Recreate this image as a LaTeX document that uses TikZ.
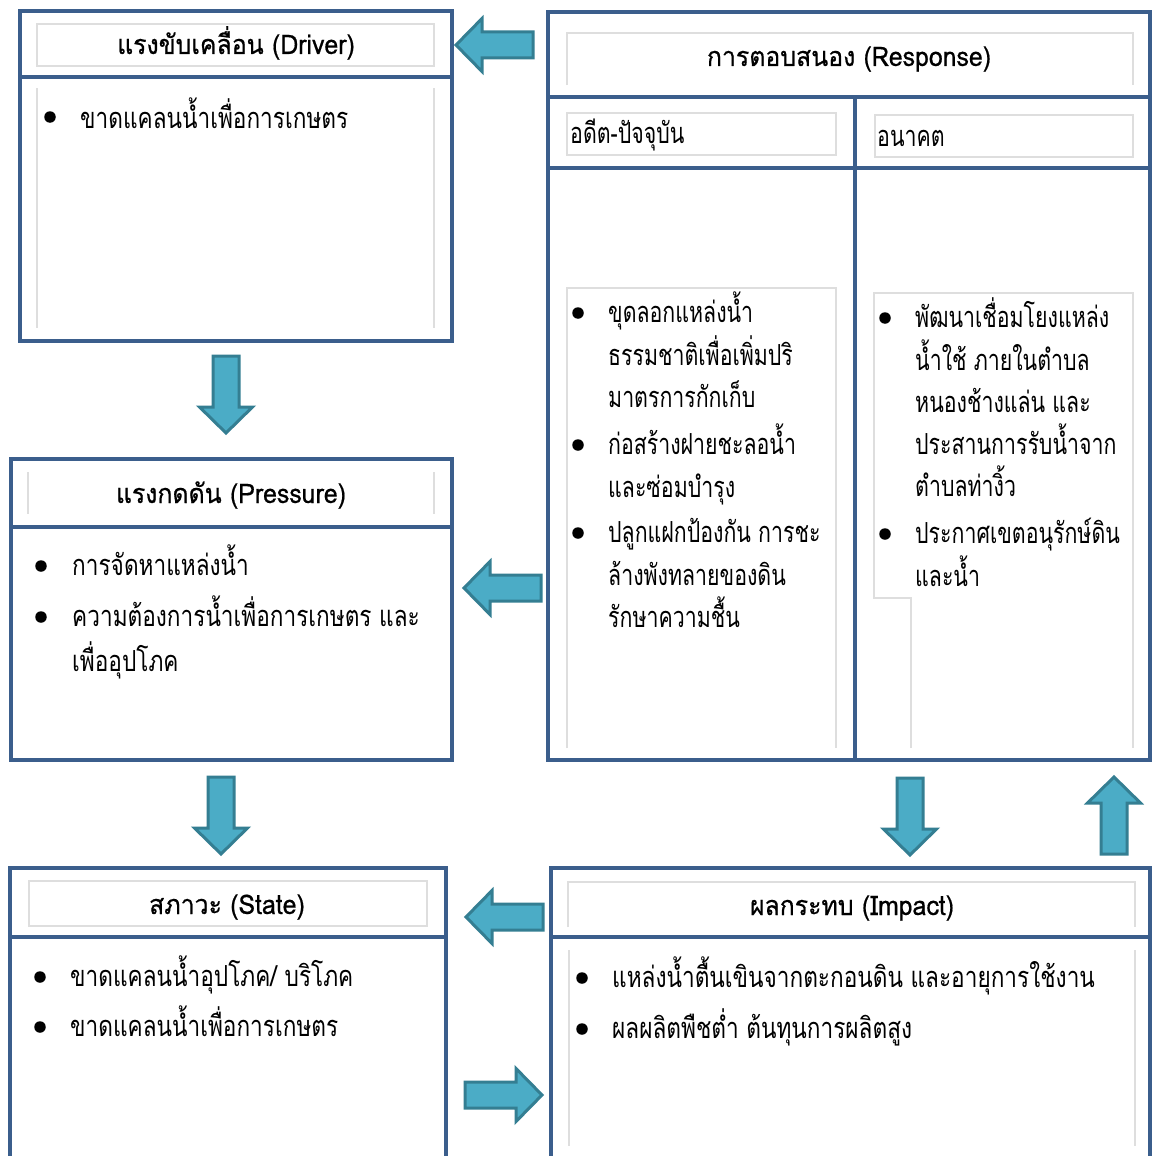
\documentclass[tikz,border=0pt]{standalone}
\usepackage{fontspec}
\newfontfamily\titlefont[Script=Thai,FakeStretch=0.92,FakeBold=0.6]{Loma}
\newfontfamily\bodyfont[Script=Thai,FakeStretch=0.78]{Loma}
\newfontfamily\colfont[Script=Thai,FakeStretch=0.735]{Loma}
\definecolor{frameblue}{RGB}{59,94,140}
\definecolor{guidegray}{RGB}{222,222,222}
\definecolor{arrowfill}{RGB}{75,172,198}
\definecolor{arrowedge}{RGB}{52,126,146}
\begin{document}
\begin{tikzpicture}[x=1pt,y=-1pt,
  frame/.style={draw=frameblue,line width=4pt,line join=miter},
  guide/.style={draw=guidegray,line width=1.3pt},
  blockarrow/.style={draw=arrowedge,fill=arrowfill,line width=3pt,line join=miter},
  title/.style={font=\titlefont\fontsize{27}{31}\selectfont,inner sep=0pt,anchor=base},
  body/.style={font=\bodyfont\fontsize{29}{33}\selectfont,anchor=base west,inner sep=0pt},
  colbody/.style={body,font=\colfont\fontsize{29}{33}\selectfont},
  dot/.style={circle,fill=black,minimum size=11.5pt,inner sep=0pt}]
\useasboundingbox (0,0) rectangle (1153,1156);
\fill[white] (0,0) rectangle (1153,1156);
\newcommand{\blockarr}[3]{%
  \draw[blockarrow,shift={(#1,#2)},rotate=#3]
    (0,0) -- (26,26.5) -- (26,13) -- (77,13) -- (77,-13) -- (26,-13) -- (26,-26.5) -- cycle;}
% ---------- Driver
\draw[frame] (20,11) rectangle (452,341);
\draw[frame] (20,77) -- (452,77);
\draw[guide] (37,24) rectangle (434,66);
\draw[guide] (37,88) -- (37,328) (434,88) -- (434,328);
\node[title] (dT) at (236,54) {แรงขับเคลื่อน (Driver)};
\node[dot] (db1) at (50,117) {};
\node[body] (d1) at (80,128) {ขาดแคลนน้ำเพื่อการเกษตร};
% ---------- Response
\draw[frame] (548,12) rectangle (1150,760);
\draw[frame] (548,97) -- (1150,97) (548,168) -- (1150,168) (855,97) -- (855,760);
\draw[guide] (567,85) -- (567,33) -- (1133,33) -- (1133,85);
\draw[guide] (567,113) rectangle (836,155);
\draw[guide] (875,115) rectangle (1133,157);
\draw[guide] (567,748) -- (567,288) -- (836,288) -- (836,748);
\draw[guide] (911,748) -- (911,598) -- (874,598) -- (874,293) -- (1133,293) -- (1133,748);
\node[title] (rT) at (849,66) {การตอบสนอง (Response)};
\node[colbody] (rP) at (570,143) {อดีต-ปัจจุบัน};
\node[colbody] (rF) at (877,146) {อนาคต};
\node[dot] (rb1) at (578,313) {};
\node[dot] (rb2) at (578,445) {};
\node[dot] (rb3) at (578,533) {};
\node[colbody] (r1) at (608,322) {ขุดลอกแหล่งน้ำ};
\node[colbody] (r2) at (608,365) {ธรรมชาติเพื่อเพิ่มปริ};
\node[colbody] (r3) at (608,407) {มาตรการกักเก็บ};
\node[colbody] (r4) at (608,454) {ก่อสร้างฝายชะลอน้ำ};
\node[colbody] (r5) at (608,497) {และซ่อมบำรุง};
\node[colbody] (r6) at (608,542) {ปลูกแฝกป้องกัน การชะ};
\node[colbody] (r7) at (608,585) {ล้างพังทลายของดิน};
\node[colbody] (r8) at (608,627) {รักษาความชื้น};
\node[dot] (fb1) at (885,318) {};
\node[dot] (fb2) at (885,534) {};
\node[colbody] (f1) at (915,327) {พัฒนาเชื่อมโยงแหล่ง};
\node[colbody] (f2) at (915,370) {น้ำใช้ ภายในตำบล};
\node[colbody] (f3) at (915,412) {หนองช้างแล่น และ};
\node[colbody] (f4) at (915,454) {ประสานการรับน้ำจาก};
\node[colbody] (f5) at (915,496) {ตำบลท่างิ้ว};
\node[colbody] (f6) at (915,543) {ประกาศเขตอนุรักษ์ดิน};
\node[colbody] (f7) at (915,586) {และน้ำ};
% ---------- Pressure
\draw[frame] (11,459) rectangle (452,760);
\draw[frame] (11,527) -- (452,527);
\draw[guide] (28,472) -- (28,514) (434,472) -- (434,514);
\node[title] (pT) at (231,503) {แรงกดดัน (Pressure)};
\node[dot] (pb1) at (41,566) {};
\node[dot] (pb2) at (41,617) {};
\node[body] (p1) at (72,575) {การจัดหาแหล่งน้ำ};
\node[body] (p2) at (72,626) {ความต้องการน้ำเพื่อการเกษตร และ};
\node[body] (p3) at (72,671) {เพื่ออุปโภค};
% ---------- State
\draw[frame] (10,1160) -- (10,868) -- (446,868) -- (446,1160);
\draw[frame] (10,937) -- (446,937);
\draw[guide] (29,881) rectangle (427,926);
\node[title] (sT) at (227,914) {สภาวะ (State)};
\node[dot] (sb1) at (40,977) {};
\node[dot] (sb2) at (40,1027) {};
\node[body] (s1) at (70,986) {ขาดแคลนน้ำอุปโภค/ บริโภค};
\node[body] (s2) at (70,1036) {ขาดแคลนน้ำเพื่อการเกษตร};
% ---------- Impact
\draw[frame] (551,1160) -- (551,868) -- (1150,868) -- (1150,1160);
\draw[frame] (551,937) -- (1150,937);
\draw[guide] (568,927) -- (568,882) -- (1135,882) -- (1135,927);
\draw[guide] (569,950) -- (569,1146) (1135,950) -- (1135,1146);
\node[title] (iT) at (852,915) {ผลกระทบ (Impact)};
\node[dot] (ib1) at (582,978) {};
\node[dot] (ib2) at (582,1029) {};
\node[body] (i1) at (612,987) {แหล่งน้ำตื้นเขินจากตะกอนดิน และอายุการใช้งาน};
\node[body] (i2) at (612,1038) {ผลผลิตพืชต่ำ ต้นทุนการผลิตสูง};
% ---------- block arrows
\blockarr{456}{45}{0}
\blockarr{464}{588}{0}
\blockarr{466}{917}{0}
\blockarr{542}{1095}{180}
\blockarr{226}{433}{90}
\blockarr{221}{854}{90}
\blockarr{910}{855}{90}
\blockarr{1114}{777}{-90}
\end{tikzpicture}
\end{document}
